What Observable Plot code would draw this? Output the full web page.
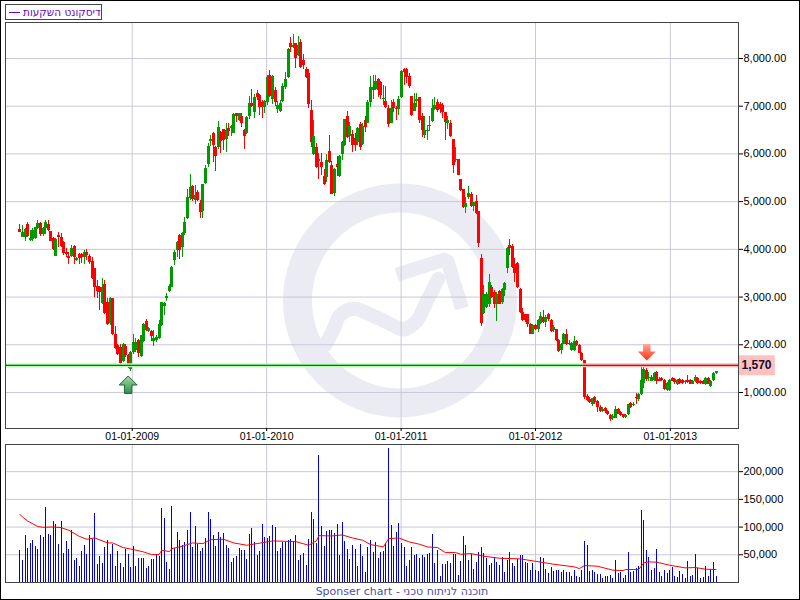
<!DOCTYPE html>
<html><head><meta charset="utf-8">
<script src="https://cdn.jsdelivr.net/npm/d3@7"></script>
<script src="https://cdn.jsdelivr.net/npm/@observablehq/plot@0.6"></script>
<style>
html,body{margin:0;padding:0;background:#fff;overflow:hidden}
#page{position:relative;width:800px;height:600px;overflow:hidden}
#page svg{position:absolute;left:0;background:transparent;overflow:visible}
#edge{position:absolute;left:0;top:0;width:800px;height:600px;box-sizing:border-box;border:1px solid #000;pointer-events:none}
#legend{position:absolute;left:5px;top:4px;width:95px;height:14px;border:1px solid #444;background:#fff;color:#6a00cc;font:10.5px "DejaVu Sans";line-height:14px;white-space:nowrap}
#legend i{position:absolute;left:3px;top:7px;width:11px;height:1px;background:#6a00cc}
#legend span{position:absolute;left:17px;top:0;direction:rtl}
#caption{position:absolute;left:0;top:585px;width:804px;text-align:center;color:#4f4fa5;font:11px "DejaVu Sans";white-space:nowrap}
</style></head><body>
<div id="page">
<div id="legend"><i></i><span>דיסקונט השקעות</span></div>
<div id="caption">Sponser chart - תוכנה לניתוח טכני</div>
<div id="edge"></div>
</div>
<script>
// weekly candles
const opens=[4420,4250,4240,4530,4180,4200,4220,4440,4550,4320,4430,4520,4370,4220,3860,4290,4250,4150,3940,3860,3850,4060,3760,3890,3900,3820,3940,3850,3750,3590,3220,3190,2870,3260,2890,2450,2960,2220,1980,1940,1650,1970,1770,1490,1830,1870,2080,1760,2070,2490,2270,2270,2070,2080,2130,2400,2800,2980,3110,3200,3760,3970,4290,4030,4340,
4650,5070,5320,5030,5190,4960,4790,5370,5770,6260,6420,6140,6130,6440,6510,6300,6530,6540,6430,6840,6700,6790,6500,6420,6790,7060,6870,7260,7220,7070,6980,
7080,7640,7150,7340,6930,6890,7100,7400,7610,8310,8240,8310,8060,8330,7960,7780,7680,6910,5980,6140,5890,5820,5520,5510,6050,5750,5170,5770,5530,5980,6170,6780,6360,6400,6330,6240,6610,6190,6700,6640,7080,7330,7350,7560,7500,7140,7100,6950,6640,7080,6960,6940,7190,7770,7770,7620,7200,6890,7100,7180,6780,6380,6470,6570,6680,6940,7080,7030,7020,6870,6640,6640,6300,5860,5880,5460,5250,4880,5090,5160,4900,5000,4790,
3810,2660,2780,2840,3190,3100,2850,3110,2890,3130,3590,4080,4060,3690,3710,3150,2670,2630,2630,2430,2220,2400,2310,2450,2570,2470,2640,2500,2290,2310,2100,1870,2010,2220,2030,1870,1890,2060,1980,1820,1660,910,860,740,890,820,680,610,660,600,510,460,460,650,580,530,470,530,770,720,890,860,960,1190,1470,1290,1240,1260,1420,1280,1290,1260,1050,1050,1290,1280,1160,1280,1260,1210,1260,1260,1170,1240,1300,1240,1240,1170,1300,1120,1260,1400];
const highs=[4520,4500,4430,4560,4390,4430,4460,4600,4570,4460,4600,4600,4380,4240,4220,4360,4340,4170,4010,3940,4080,4080,3830,3920,3920,3970,3990,3900,3830,3600,3340,3220,3380,3340,2960,2990,2970,2380,2010,2010,2030,2010,1800,1850,2220,2140,2120,2200,2450,2520,2360,2290,2290,2190,2500,2890,2890,3080,3270,3650,3970,4170,4320,4360,4670,
5260,5560,5330,5330,5230,5020,5350,5750,6210,6380,6440,6160,6680,6460,6520,6630,6640,6600,6840,6850,6850,6840,6520,6780,7200,7350,7240,7330,7240,7120,7130,
7640,7750,7640,7400,7100,7120,7470,7710,8200,8450,8500,8320,8470,8390,8080,7820,7760,7120,6710,6210,6000,6000,5680,5980,6380,5840,5700,5940,5960,6260,6730,6890,6660,6490,6420,6560,6660,6640,6780,7120,7620,7640,7640,7590,7520,7430,7410,7010,7130,7150,6990,7200,7750,7800,7800,7690,7210,7260,7260,7190,6840,6780,6590,6780,7150,7190,7150,7080,7050,6870,6780,6700,6310,6140,5890,5470,5260,5090,5310,5190,4980,5120,4800,
3890,3240,3100,3480,3240,3130,3100,3130,3170,3310,4040,4200,4110,3800,3730,3170,2750,2640,2640,2450,2420,2430,2540,2680,2710,2610,2660,2520,2400,2320,2110,2030,2240,2310,2080,2050,2170,2080,2000,1840,1680,960,890,880,910,840,720,680,680,630,540,540,700,670,610,540,540,750,790,790,980,980,1580,1520,1510,1420,1350,1420,1450,1310,1310,1280,1210,1280,1310,1300,1280,1300,1270,1260,1350,1270,1260,1350,1310,1260,1260,1310,1310,1260,1420,1440];
const lows=[4350,4240,4170,4240,4170,4170,4200,4420,4270,4270,4320,4380,4160,3970,3850,4040,4040,3870,3830,3680,3830,3690,3740,3690,3710,3690,3760,3690,3370,2990,2980,2710,2850,2640,2410,2400,2200,1910,1780,1590,1620,1730,1510,1440,1800,1840,1730,1730,2050,2280,2260,2070,1960,2050,2120,2380,2610,2900,3090,3190,3660,3830,3790,3830,4290,
4620,5020,5000,4950,5000,4640,4640,5350,5720,6150,5820,5630,6090,6000,6070,6020,6360,6370,6420,6660,6680,6560,6090,6410,6720,6980,6750,7120,6800,6750,6850,
7010,7190,7030,6990,6850,6870,7080,7360,7590,8130,8220,7800,8040,7800,7760,7590,6960,6140,5960,5700,5470,5540,5330,5400,5790,5140,5110,5520,5510,5870,6150,6330,6240,6030,6050,6170,6070,6170,6450,6630,6980,7150,7330,7190,7150,7010,6960,6560,6630,6870,6700,6800,7170,7430,7470,7380,6780,6880,6980,6630,6350,6330,6280,6470,6660,6910,6870,6840,6750,6280,6510,6350,5590,5820,5540,5210,4860,4750,5050,4880,4790,4740,4040,
2380,2640,2750,2780,2980,2770,2490,2840,2840,3010,3500,3870,3590,3310,3170,2660,2490,2470,2360,2210,2210,2290,2260,2430,2450,2360,2490,2260,2260,2070,1840,1800,2000,1980,1980,1850,1860,1960,1820,1650,860,810,770,700,740,580,580,580,560,510,400,420,450,530,490,460,460,510,670,700,740,820,930,1090,1240,1240,1230,1230,1170,1220,1240,1050,1030,1030,1220,1160,1140,1170,1170,1160,1190,1160,1160,1210,1170,1170,1160,1140,1160,1100,1240,1380];
const closes=[4360,4350,4420,4270,4230,4390,4450,4550,4310,4430,4570,4390,4170,3990,4200,4240,4060,3920,3890,3800,4010,3820,3810,3800,3820,3940,3870,3720,3380,3190,3120,3100,3190,2660,2420,2960,2210,1920,1790,1610,2000,1770,1520,1840,2040,2050,1820,2190,2420,2290,2340,2170,2130,2150,2420,2880,2870,3010,3220,3620,3940,4150,3970,4340,4560,
5090,5300,5040,5120,5030,4770,5350,5690,6150,6300,6170,5950,6550,6260,6280,6500,6460,6570,6820,6790,6840,6640,6360,6770,7050,6990,7180,7190,6980,6980,7100,
7610,7200,7630,7080,7010,7050,7410,7570,8190,8240,8270,8010,8270,7820,7850,7610,7030,6240,6360,5720,5840,5720,5350,5860,5820,5160,5680,5720,5940,6240,6720,6350,6570,6170,6170,6540,6140,6580,6560,7080,7400,7400,7520,7330,7220,7170,6970,6610,6960,6960,6940,7140,7730,7710,7610,7410,6800,7050,7140,6710,6490,6490,6500,6590,6960,7010,6920,6940,6870,6660,6700,6360,5760,5890,5550,5230,4880,4960,5180,4890,4980,4760,4130,
2450,3060,3060,3310,2990,2840,3060,2850,3150,3290,4020,4010,3610,3500,3200,2680,2500,2500,2420,2220,2400,2330,2500,2590,2470,2570,2520,2280,2360,2080,1860,2010,2210,2010,2000,2030,2060,1980,1820,1660,890,840,790,870,790,680,600,650,600,530,440,490,650,540,510,470,510,740,680,750,870,960,1260,1490,1280,1310,1310,1400,1240,1240,1260,1070,1190,1260,1240,1210,1260,1190,1190,1240,1210,1170,1240,1310,1190,1190,1170,1300,1170,1240,1400,1430];
const volumes=[58200,40200,85200,61800,70800,76200,65400,60000,85200,81600,135600,87000,85200,110400,105000,69000,110400,52800,74400,60000,94200,40200,43800,29400,56400,67200,51000,85200,78000,124800,33000,47400,34800,63600,76200,51000,69000,29400,56400,34800,27600,60000,51000,27600,65400,29400,43800,43800,43800,25800,29400,42000,42000,51000,47400,133800,115800,36600,24000,137400,61800,90600,76200,67200,72600,94200,126600,63600,101400,69000,56400,61800,79800,126600,114000,85200,65400,90600,81600,88800,67200,61800,36600,43800,47400,61800,58200,58200,42000,87000,97800,72600,49200,56400,105000,81600,79800,83400,103200,99600,56400,61800,72600,72600,76200,78000,72600,85200,40200,49200,52800,31200,78000,126600,114000,70800,229200,101400,65400,92400,94200,94200,88800,105000,49200,108600,74400,60000,42000,67200,60000,29400,69000,47400,18600,63600,76200,54600,72600,43800,54600,56400,69000,241800,103200,65400,90600,106800,
70800,63600,29400,40200,63600,49200,51000,43800,49200,45600,51000,52800,87000,34800,58200,11400,33000,33000,38400,34800,51000,51000,13200,38400,83400,67200,40200,51000,24000,36600,54600,63600,52800,43800,31200,34800,45600,36600,31200,45600,18600,40200,54600,34800,29400,42000,49200,49200,36600,34800,22200,34800,22200,20400,45600,43800,24000,16800,27600,20400,22200,22200,18600,22200,18600,18600,11400,22200,11400,9600,22200,74400,67200,20400,22200,18600,15000,15000,7800,11400,11400,13200,7800,40200,16800,18600,7800,13200,54600,18600,20400,25800,29400,130200,112200,58200,45600,22200,25800,60000,18600,11400,22200,16800,22200,27600,11400,9600,20400,15000,7800,38400,11400,13200,51000,25800,7800,9600,29400,11400,24000,36600,11400];
// moving average of volume: week index and value
const maWeek=[0,1,3,7,9,13,16,19,23,26,29,34,36,40,44,48,51,54,55,58,59,63,67,71,74,79,83,88,92,98,107,112,115,116,121,125,129,133,136,141,143,147,151,155,158,162,165,169,171,175,180,186,194,199,207,215,217,219,224,230,234,235,240,242,244,247,252,258,262,266,270];
const maValue=[123000,118200,111000,100800,99600,100200,99000,94200,83400,78000,80400,71400,71400,63000,59400,55200,50400,50400,58200,55800,61200,65400,71400,70200,77400,78000,71400,67200,70200,75000,73800,67200,75000,84600,84000,85800,80400,76200,68400,64200,79200,80400,73200,69000,64200,63000,54000,54000,51000,52200,47400,43800,42600,39000,33000,28200,25200,30600,29400,22200,21600,23400,23400,35400,37200,36600,31200,26400,27000,24000,23400];
// axes
const priceTicks=[1000,2000,3000,4000,5000,6000,7000,8000];
const volumeTicks=[50000,100000,150000,200000];
const yearTicks=["2009-01-01","2010-01-01","2011-01-01","2012-01-01","2013-01-01"].map(d=>new Date(d));
const xDomain=[new Date("2008-01-23"),new Date("2013-07-05")];
// reference level and its two stretches
const level=1570;
const levelBreak=new Date("2012-05-09");
const labelEnd=new Date("2013-10-13");
// watermark, in chart units
const ringAt={x:new Date("2010-12-29"),y:2928};
const waveX=["2010-06-08","2010-07-01","2010-07-19","2010-08-24","2010-10-21","2010-12-20","2011-01-07","2011-02-12","2011-03-11","2011-04-12"].map(d=>new Date(d));
const waveY=[1985,2314,2614,2754,2593,2369,2320,2494,2901,3383];
const headX=["2010-12-20","2011-05-05","2011-06-15"].map(d=>new Date(d));
const headY=[3467,3802,2767];
// signal arrows
const buyAt={x:new Date("2008-12-21"),y:1157};
const sellAt={x:new Date("2012-10-29"),y:1859};

const weeks=d3.utcWeek.range(new Date("2008-03-02"),new Date("2013-05-06"));
const idx=d3.range(opens.length);
const colorOf=i=>closes[i]>=opens[i]?"#009900":"#ff0000";
const fontFamily='"Liberation Sans",Arial,sans-serif';
const gridColor="#c8c8da";
const frameColor="#444";
const upSymbol={draw(c){c.moveTo(0,-9);c.lineTo(9,0);c.lineTo(3.7,0);c.lineTo(3.7,8.5);c.lineTo(-3.7,8.5);c.lineTo(-3.7,0);c.lineTo(-9,0);c.closePath();}};
const downSymbol={draw(c){c.moveTo(-3.7,-7.5);c.lineTo(3.7,-7.5);c.lineTo(3.7,0);c.lineTo(9,0);c.lineTo(0,9);c.lineTo(-9,0);c.lineTo(-3.7,0);c.closePath();}};
function idxOf(a){return d3.range(a.length);}

const priceChart=Plot.plot({
  width:800,height:444,marginTop:22,marginBottom:16,marginLeft:5,marginRight:62,
  style:{fontFamily,fontSize:"11px",background:"transparent",color:"#000"},
  x:{type:"utc",domain:xDomain,label:null},
  y:{domain:[245,8755],label:null},
  marks:[
    Plot.dot([ringAt],{x:"x",y:"y",r:102.5,stroke:"#ebebf4",strokeWidth:29,fill:"none"}),
    Plot.line(idxOf(waveX),{x:i=>waveX[i],y:i=>waveY[i],stroke:"#ebebf4",strokeWidth:14,curve:"catmull-rom"}),
    Plot.line(idxOf(headX),{x:i=>headX[i],y:i=>headY[i],stroke:"#ebebf4",strokeWidth:14,strokeLinejoin:"miter",strokeLinecap:"butt"}),
    Plot.ruleY(priceTicks,{stroke:gridColor,strokeWidth:1}),
    Plot.ruleX(yearTicks,{stroke:gridColor,strokeWidth:1}),
    Plot.ruleX(idx,{x:i=>weeks[i],y1:i=>lows[i],y2:i=>highs[i],stroke:colorOf,strokeWidth:1,shapeRendering:"crispEdges"}),
    Plot.ruleX(idx,{x:i=>weeks[i],y1:i=>opens[i],y2:i=>closes[i],stroke:colorOf,strokeWidth:3,shapeRendering:"crispEdges"}),
    Plot.ruleY([level],{x1:xDomain[0],x2:levelBreak,stroke:"#b4ffb4",strokeWidth:4}),
    Plot.ruleY([level],{x1:levelBreak,x2:xDomain[1],stroke:"#ffb4b4",strokeWidth:4}),
    Plot.ruleY([level],{x1:xDomain[0],x2:levelBreak,stroke:"#007700",strokeWidth:1.2}),
    Plot.ruleY([level],{x1:levelBreak,x2:xDomain[1],stroke:"#b01818",strokeWidth:1.2}),
    Plot.ruleY([level],{x1:xDomain[1],x2:labelEnd,stroke:"#ffc0c0",strokeWidth:20}),
    Plot.text([level],{x:xDomain[1],y:d=>d,text:d3.format(","),dx:3,textAnchor:"start",fontWeight:"bold",fontSize:12,fill:"#101030"}),
    Plot.dot([buyAt],{x:"x",y:"y",symbol:upSymbol,r:9,fill:"url(#gradUp)",stroke:"#1c6b2c",strokeWidth:1}),
    Plot.dot([sellAt],{x:"x",y:"y",symbol:downSymbol,r:9,fill:"url(#gradDown)",stroke:"none"}),
    Plot.frame({stroke:frameColor,strokeWidth:1}),
    Plot.axisY({anchor:"right",ticks:priceTicks,tickFormat:d3.format(",.2f"),tickSize:4,tickPadding:1,label:null,fontSize:11}),
    Plot.axisX({ticks:yearTicks,tickFormat:d3.utcFormat("%m-%d-%Y"),tickSize:3,tickPadding:1,label:null,fontSize:10.5})
  ]
});
priceChart.style.top="0";
const defs=d3.select(priceChart).insert("defs",":first-child");
const addGrad=(id,stops)=>{const g=defs.append("linearGradient").attr("id",id).attr("x1",0).attr("y1",0).attr("x2",0).attr("y2",1);
  stops.forEach(([o,c])=>g.append("stop").attr("offset",o).attr("stop-color",c));};
addGrad("gradUp",[[0,"#a8d8a8"],[1,"#2f8f4a"]]);
addGrad("gradDown",[[0,"#ffa898"],[1,"#ff3010"]]);

const volumeChart=Plot.plot({
  width:800,height:156,marginTop:0,marginBottom:18,marginLeft:5,marginRight:62,
  style:{fontFamily,fontSize:"11px",background:"transparent",color:"#000"},
  x:{type:"utc",domain:xDomain,label:null,axis:null},
  y:{domain:[0,249000],label:null},
  marks:[
    Plot.ruleY(volumeTicks,{stroke:gridColor,strokeWidth:1}),
    Plot.ruleX(yearTicks,{stroke:gridColor,strokeWidth:1}),
    Plot.ruleX(idx,{x:i=>weeks[i],y1:0,y2:i=>volumes[i],stroke:"#0000d8",strokeWidth:1,shapeRendering:"crispEdges"}),
    Plot.line(idxOf(maWeek),{x:i=>weeks[maWeek[i]],y:i=>maValue[i],stroke:"#ff0000",strokeWidth:1}),
    Plot.frame({stroke:frameColor,strokeWidth:1}),
    Plot.axisY({anchor:"right",ticks:volumeTicks,tickFormat:d3.format(","),tickSize:4,tickPadding:1,label:null,fontSize:11})
  ]
});
volumeChart.style.top="444px";
const page=document.getElementById("page");
page.insertBefore(volumeChart,page.firstChild);
page.insertBefore(priceChart,page.firstChild);
</script>
</body></html>
